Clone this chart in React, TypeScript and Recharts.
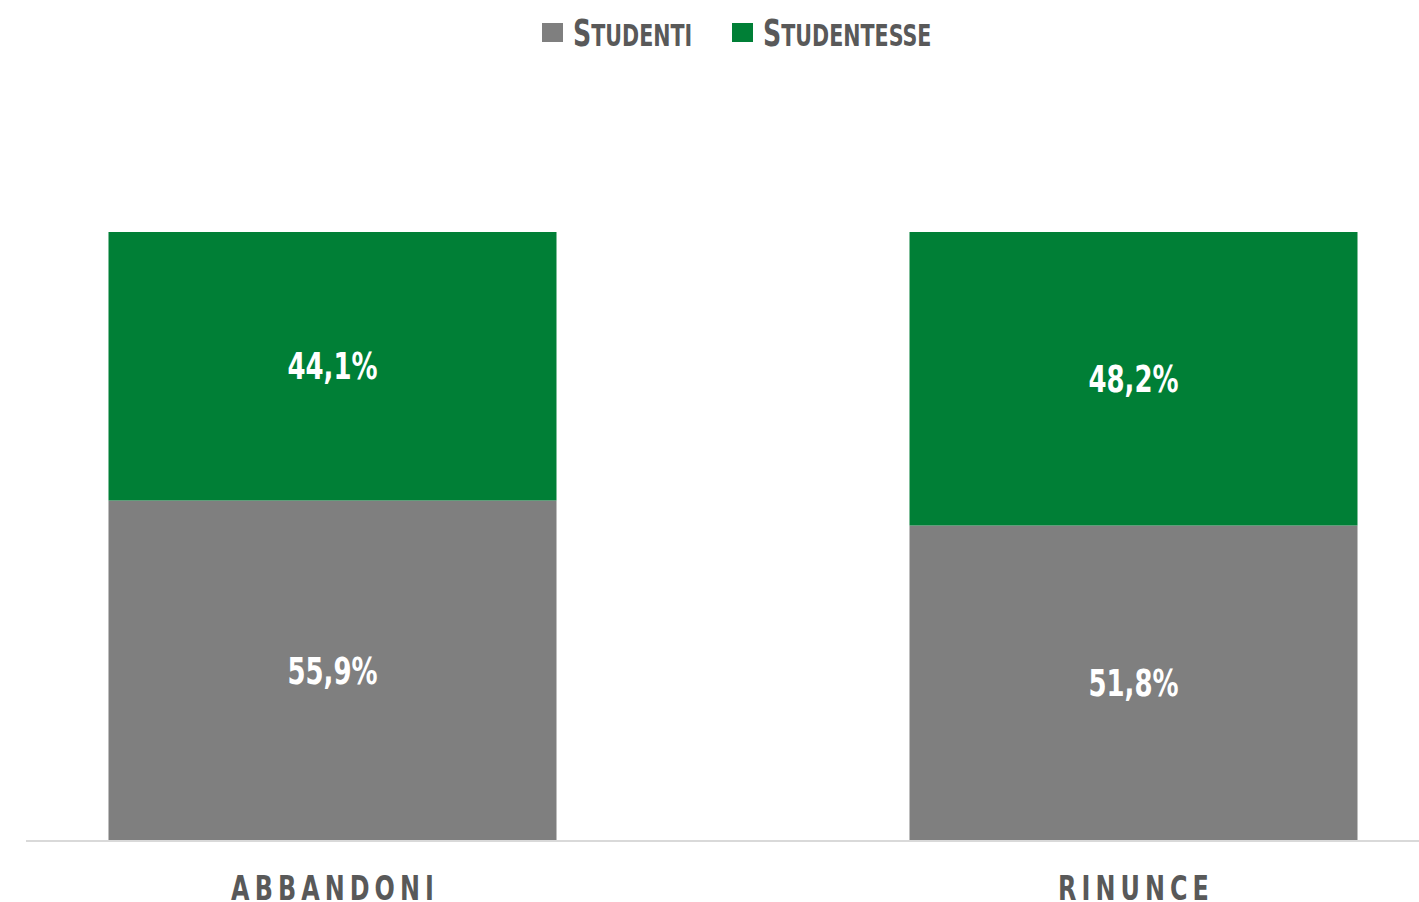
import { BarChart, Bar, XAxis, YAxis, LabelList } from 'recharts'

const CATEGORIES = ['ABBANDONI', 'RINUNCE']
const STUDENTI = [55.9, 51.8]
const STUDENTESSE = [44.1, 48.2]
const SERIES_NAMES = ['STUDENTI', 'STUDENTESSE']

const GREY = '#7f7f7f'
const GREEN = '#007f36'
const TEXT = '#595959'
const FONT = '"DejaVu Sans Condensed", "DejaVu Sans", sans-serif'
// DejaVu condensato è ancora più largo del DIN originale: lo stringo in orizzontale
const SQUEEZE = 0.78

const data = CATEGORIES.map((name, i) => ({
  name,
  studenti: STUDENTI[i],
  studentesse: STUDENTESSE[i],
}))

const fmt = (v: number) => `${v.toFixed(1).replace('.', ',')}%`

function CategoryTick({ x, y, payload }: { x?: number; y?: number; payload?: { value: string } }) {
  return (
    <text
      transform={`translate(${(x ?? 0) + 3},${(y ?? 0) + 57}) scale(${SQUEEZE},1)`}
      textAnchor='middle'
      fill={TEXT}
      fontFamily={FONT}
      fontWeight={700}
      fontSize={34}
      letterSpacing={6.5}>
      {payload?.value}
    </text>
  )
}

function ValueLabel(props: {
  x?: number
  y?: number
  width?: number
  height?: number
  value?: number
}) {
  const { x = 0, y = 0, width = 0, height = 0, value = 0 } = props
  return (
    <text
      transform={`translate(${x + width / 2},${y + height / 2}) scale(${SQUEEZE},1)`}
      textAnchor='middle'
      dominantBaseline='central'
      fill='#fff'
      fontFamily={FONT}
      fontWeight={700}
      fontSize={37}>
      {fmt(value)}
    </text>
  )
}

// legenda in alto, fuori dal grafico così non sposta l'area dei dati
function ChartLegend() {
  const items = [
    { label: SERIES_NAMES[0], color: GREY, x: 542 },
    { label: SERIES_NAMES[1], color: GREEN, x: 732 },
  ]
  return (
    <svg width={1419} height={60} style={{ position: 'absolute', left: 0, top: 0 }}>
      {items.map((it) => (
        <g key={it.label}>
          <rect x={it.x} y={23} width={21} height={19} fill={it.color} />
          <text
            transform={`translate(${it.x + 31},46) scale(0.74,1)`}
            fill={TEXT}
            fontFamily={FONT}
            fontWeight={700}>
            <tspan fontSize={38}>{it.label[0]}</tspan>
            <tspan fontSize={31}>{it.label.slice(1)}</tspan>
          </text>
        </g>
      ))}
    </svg>
  )
}

export default function App() {
  return (
    <div style={{ position: 'absolute', left: 0, top: 0, width: 1419, height: 902, background: '#fff' }}>
      <BarChart
        width={1419}
        height={902}
        data={data}
        margin={{ top: 232, right: 0, left: 26, bottom: 0 }}>
        <XAxis
          dataKey='name'
          height={61}
          padding={{ left: -94.5, right: -114.5 }}
          axisLine={{ stroke: '#d9d9d9', strokeWidth: 2 }}
          tickLine={false}
          tickSize={0}
          tick={<CategoryTick />}
          interval={0}
        />
        <YAxis hide domain={[0, 100]} />
        <Bar dataKey='studenti' stackId='a' fill={GREY} barSize={448} isAnimationActive={false}>
          <LabelList dataKey='studenti' content={<ValueLabel />} />
        </Bar>
        <Bar dataKey='studentesse' stackId='a' fill={GREEN} barSize={448} isAnimationActive={false}>
          <LabelList dataKey='studentesse' content={<ValueLabel />} />
        </Bar>
      </BarChart>
      <ChartLegend />
    </div>
  )
}
